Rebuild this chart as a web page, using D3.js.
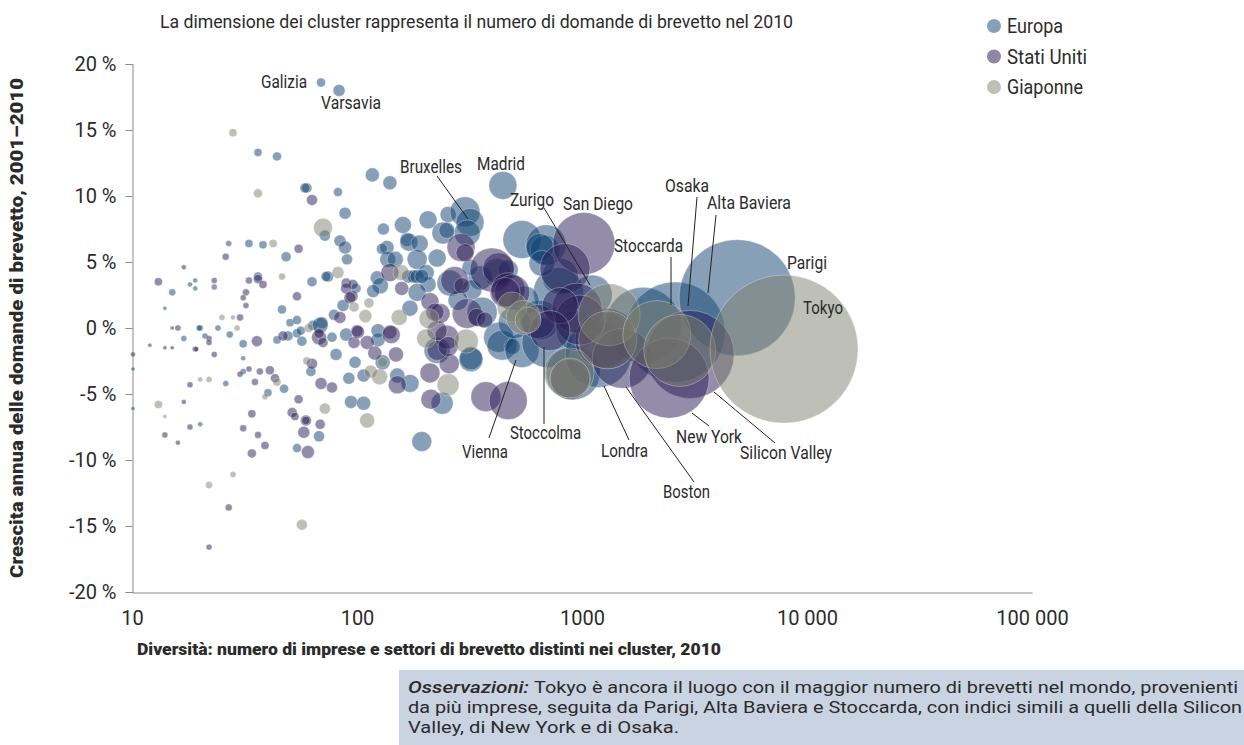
<!DOCTYPE html>
<html>
<head>
<meta charset="utf-8">
<script src="https://cdn.jsdelivr.net/npm/d3@7"></script>
<style>
  html, body { margin: 0; padding: 0; background: #fff; }
  svg { display: block; }
  text { font-family: Roboto, "Open Sans", sans-serif; fill: #2b2b2b; }
</style>
</head>
<body>
<svg id="chart" width="1244" height="745"></svg>
<script>
// diversity, annual growth %, patent applications
const europa = [
  [69.2,18.6,111],[83.2,18.0,197],[36.3,13.3,88],[44.1,13.0,111],[117,11.6,269],[140,11.0,269],[59.9,10.6,137],[58.7,10.6,137],
  [82.3,10.3,111],[88.5,8.7,197],[72,7.0,166],[84,6.6,197],[88.5,6.1,232],[90.3,5.2,166],[160,7.8,396],[131,7.5,197],
  [167,6.7,269],[170,6.5,444],[190,6.4,396],[136,6.1,269],[129,6.0,166],[207,8.2,444],[254,8.6,351],[241,7.2,663],
  [251,7.4,351],[302,8.8,1233],[318,8.0,1074],[309,7.2,926],[227,5.3,444],[185,5.2,548],[137,5.2,351],[148,5.2,351],
  [48.4,5.4,137],[26.9,6.4,49],[33.1,6.4,88],[38.2,6.3,88],[36.3,3.9,111],[63.1,3.5,137],[74.4,3.9,166],[72.8,3.9,137],
  [19.1,3.6,34],[18.1,3.3,34],[19.1,3.0,34],[15.1,2.7,67],[23.2,3.1,49],[14,1.5,22],[46.4,1.4,111],[50.4,0.4,88],
  [54.1,0.6,111],[24.1,0,49],[20.1,0,49],[19.9,0,49],[69.9,0.4,197],[63.7,0.2,137],[79,1.0,166],[86.7,1.7,197],
  [99,3.0,137],[123,3.8,269],[127,3.2,351],[118,2.8,232],[172,1.5,351],[203,4.2,351],[207,3.3,351],[185,2.7,444],
  [169,3.9,232],[178,3.9,232],[185,3.9,269],[194,3.9,269],[10.1,-3.1,22],[10.1,-6.1,22],[17,-0.8,49],[21.1,-0.6,49],
  [27.2,-0.5,67],[31.2,-1.2,88],[44.1,-0.9,88],[49.4,-0.6,137],[54.1,-0.4,111],[56.9,-1.0,137],[56.3,-0.2,111],[31.2,-2.3,34],
  [31.2,-3.3,49],[26.1,-4.2,49],[40.2,-4.9,88],[47.4,-4.6,111],[62.4,-3.3,137],[80.7,-2.0,197],[98,-2.6,197],[20.1,-7.3,34],
  [92,-3.8,197],[107,-3.6,232],[151,-3.6,308],[172,-4.2,444],[94,-5.6,232],[107,-5.7,269],[67.8,-8.2,166],[54.1,-9.1,111],
  [194,-8.6,548],[130,-2.6,308],[124,-0.2,269],[124,-0.9,269],[89.5,-0.5,232],[77.4,-0.7,137],[68.6,0.2,351],[227,-1.7,926],
  [321,-2.4,789],[321,-2.3,725],[239,-5.7,663],[259,3.4,926],[353,3.8,789],[324,2.9,548],[318,4.6,351],[281,2.1,548],
  [426,-0.7,1233],[441,-1.3,1233],[489,-1.4,351],[541,-1.7,1584],[419,4.2,1074],[470,4.4,548],[541,6.7,1978],[692,6.3,2192],
  [686,5.9,1233],[650,6.1,1074],[800,3.9,1776],[785,2.7,3425],[664,4.9,926],[699,-1.1,3425],[1110,2.5,2192],[650,0.6,2192],
  [559,2.1,1074],[913,-3.4,3995],[1180,-2.0,5968],[1870,0.2,7913],[2590,-0.3,13700],[4890,2.3,18434],[940,-0.2,2192],[445,10.8,1074],
  [360,1.2,1233],[500,0.4,1403]
];
const statiUniti = [
  [55,6.0,111],[26.1,5.4,67],[17,4.6,34],[13.1,3.5,88],[23.2,3.6,49],[33.1,3.6,67],[36.3,3.7,111],[38.2,3.3,88],
  [32.1,2.7,67],[31.2,2.3,49],[32.1,1.7,49],[54.1,2.4,111],[30.2,0.8,67],[15.1,0,22],[16,0,49],[63.1,9.7,166],
  [89.5,3.4,137],[96,3.3,137],[89.5,3.0,166],[95,2.4,197],[93,2.3,197],[84,0.8,197],[140,4.2,444],[158,3.0,269],
  [100,-0.2,197],[140,-0.3,269],[10.1,-2,34],[12,-1.3,22],[14,-1.5,22],[15.1,-1.5,22],[19.1,-1.6,49],[19.3,-1.6,34],
  [22,-0.8,49],[22,-1.1,49],[23.2,-2,49],[35.9,-1,166],[46.9,-0.6,137],[67.8,-0.7,308],[67.8,-0.4,137],[70.6,-1.1,137],
  [33.1,-3.1,49],[30.2,-3.5,49],[37,-3.3,67],[41,-3.2,111],[43.2,-3.8,111],[35.2,-4.1,67],[18.1,-4.3,49],[17,-5.6,34],
  [55,-5.4,111],[51.5,-6.4,137],[53,-6.7,88],[34.1,-6.5,88],[59.3,-7,166],[59.3,-7,88],[68.6,-7.3,137],[58,-7.9,197],
  [31.2,-7.6,67],[36.3,-8.1,67],[39,-8.9,88],[34.1,-9.5,111],[60.5,-9.4,232],[18.1,-7.5,49],[14,-8.1,49],[16,-8.7,34],
  [26.9,-13.6,67],[22,-16.6,49],[63.1,-2.7,166],[69.2,-4.2,197],[77.4,-4.5,166],[97,-1.1,197],[101,-0.3,232],[111,-1.1,269],
  [120,-1.9,269],[142,-0.5,444],[149,-2,308],[151,-4.3,444],[211,-3.4,548],[257,-2.7,548],[213,-5.4,548],[227,-1.7,548],
  [251,-0.7,789],[254,-1.4,548],[227,-0.2,548],[211,2,444],[234,1.1,548],[222,1.2,444],[290,6.1,1074],[302,5.7,444],
  [272,3.6,1074],[293,3.2,351],[309,1.1,1233],[341,0.8,444],[370,0.6,351],[398,4.4,2652],
  [426,4.5,1403],[470,2.9,1584],[489,2.7,1700],[455,2.7,1233],[637,0.5,1584],[1020,6.4,5266],[840,4.5,3425],
  [950,1.5,3425],[1240,-0.9,4296],[1300,-0.8,4932],[1510,-2.3,4932],[885,-3.9,2192],[3020,-2,10609],[2440,-3.8,8768],[980,0.6,3425],
  [800,1.7,1776],[720,-0.2,2192],[374,-5.2,1233],[470,-5.5,1978]
];
const giappone = [
  [28.1,14.8,88],[36.3,10.2,111],[70.6,7.6,495],[42.4,6.4,88],[46.4,3.9,67],[82.3,4.2,197],[113,1.9,137],[109,0.9,232],
  [97,1.6,137],[154,0.8,351],[157,4.2,351],[25.1,0.8,49],[28.1,0.8,34],[29.3,0,49],[61,0,111],[20.1,-3.9,34],
  [22,-3.9,49],[13.1,-5.8,88],[14,-6.7,22],[44.1,-4.1,88],[39,-5.2,49],[28.1,-11.1,49],[22,-11.9,67],[56.9,-14.9,166],
  [72,-6.1,166],[111,-7,308],[59.9,-2.5,88],[115,-3.3,232],[126,-3.7,351],[130,-2.6,137],[254,-4.3,663],[203,-0.8,495],
  [306,-1,789],[209,0.7,548],[489,1.6,1233],[548,0.8,1584],[576,0.6,926],[875,-3.4,3425],[885,-3.8,2192],[1320,1,5266],
  [1300,-0.9,4612],[2150,-0.5,6335],[2720,-1.7,7102],[7900,-1.6,30000]
];

const seriesNames = ['Europa', 'Stati Uniti', 'Giaponne'];
const seriesFill = ['#0f4171', '#2a1b55', '#7d7f6d'];
const legendFill = ['#87a0b8', '#8f87a6', '#bebfb6'];
const xTicks = [10, 100, 1000, 10000, 100000];
const yTicks = [-20, -15, -10, -5, 0, 5, 10, 15, 20];

// name, left, baseline, width
const labels = [
  ['Galizia',261,88,46],['Varsavia',321,109,60],['Bruxelles',400,173,62],['Madrid',477,170,48],
  ['Zurigo',510,206,44],['San Diego',563,210,70],['Stoccarda',614,252,69],['Osaka',665,192,44],
  ['Alta Baviera',707,209,84],['Parigi',787,269,40],['Tokyo',803,314,40],['Vienna',462,458,46],
  ['Stoccolma',510,439,71],['Londra',601,457,47],['New York',676,443,66],['Silicon Valley',740,459,92],
  ['Boston',663,498,47]
];
const leaders = [
  [437,176,468,219],[544,208,590,285],[544,347,544,424],[516,360,489,438],[604,386,629,440],[626,387,694,482],
  [692,413,709,426],[714,392,775,443],[671,257,671,305],[697,197,688,306],[716,215,708,293]
];
const noteLines = [
  ['Tokyo è ancora il luogo con il maggior numero di brevetti nel mondo, provenienti', 693, 704],
  ['da più imprese, seguita da Parigi, Alta Baviera e Stoccarda, con indici simili a quelli della Silicon', 713, 834],
  ['Valley, di New York e di Osaka.', 733, 271]
];

const svg = d3.select('#chart');
const xScale = d3.scaleLog().domain([10, 100000]).range([132, 1032]);
const yScale = d3.scaleLinear().domain([-20, 20]).range([592, 64]);
const rScale = d3.scaleSqrt().domain([0, 30000]).range([0, 74]);

const fitText = (sel, w) => sel.attr('textLength', w).attr('lengthAdjust', 'spacingAndGlyphs');

// axes
const yAxis = d3.axisLeft(yScale).tickValues(yTicks).tickSize(7).tickPadding(9).tickFormat(d => d + ' %');
const xAxis = d3.axisBottom(xScale).tickValues(xTicks).tickSize(0).tickPadding(18)
  .tickFormat(d => d < 10000 ? String(d) : String(d).replace(/000$/, ' 000'));
const yGroup = svg.append('g').attr('transform', 'translate(132.5,0)').call(yAxis);
const xGroup = svg.append('g').attr('transform', 'translate(0,592.5)').call(xAxis);
[yGroup, xGroup].forEach(g => {
  g.selectAll('path, line').attr('stroke', '#8a8a8a').attr('stroke-width', 1);
  g.selectAll('text').attr('font-size', 20).attr('font-family', 'Roboto').attr('fill', '#2b2b2b');
});

// bubbles
[europa, statiUniti, giappone].forEach((rows, i) => {
  svg.append('g').selectAll('circle').data(rows).join('circle')
    .attr('cx', d => xScale(d[0]))
    .attr('cy', d => yScale(d[1]))
    .attr('r', d => rScale(d[2]))
    .attr('fill', seriesFill[i])
    .attr('fill-opacity', 0.5)
    .attr('stroke', '#fff')
    .attr('stroke-opacity', 0.3)
    .attr('stroke-width', 1);
});

// leader lines and cluster names
svg.append('g').selectAll('line').data(leaders).join('line')
  .attr('x1', d => d[0]).attr('y1', d => d[1]).attr('x2', d => d[2]).attr('y2', d => d[3])
  .attr('stroke', '#222').attr('stroke-width', 1);
svg.append('g').selectAll('text').data(labels).join('text')
  .attr('x', d => d[1]).attr('y', d => d[2]).attr('font-size', 18)
  .attr('textLength', d => d[3]).attr('lengthAdjust', 'spacingAndGlyphs')
  .text(d => d[0]);

// title and axis titles
svg.append('text').attr('x', 160).attr('y', 28).attr('font-size', 18)
  .call(fitText, 633)
  .text('La dimensione dei cluster rappresenta il numero di domande di brevetto nel 2010');
svg.append('text').attr('transform', 'translate(23,578) rotate(-90)')
  .attr('font-size', 18).attr('font-weight', 900).attr('fill', '#111')
  .call(fitText, 500)
  .text('Crescita annua delle domande di brevetto, 2001–2010');
svg.append('text').attr('x', 137).attr('y', 655)
  .attr('font-size', 16).attr('font-weight', 900).attr('fill', '#111')
  .call(fitText, 584)
  .text('Diversità: numero di imprese e settori di brevetto distinti nei cluster, 2010');

// legend
const legendWidths = [56, 80, 76];
const legend = svg.append('g').selectAll('g').data(seriesNames).join('g')
  .attr('transform', d => `translate(994,${d3.scalePoint().domain(seriesNames).range([26, 87])(d)})`);
legend.append('circle').attr('r', 7).attr('fill', (d, i) => legendFill[i]);
legend.append('text').attr('x', 13).attr('y', 7).attr('font-size', 20)
  .attr('textLength', (d, i) => legendWidths[i]).attr('lengthAdjust', 'spacingAndGlyphs')
  .text(d => d);

// note box
svg.append('rect').attr('x', 399).attr('y', 670).attr('width', 845).attr('height', 75).attr('fill', '#c9d3e2');
svg.append('text').attr('x', 408).attr('y', 693).attr('font-size', 17).attr('font-style', 'italic').attr('font-weight', 500)
  .call(fitText, 121).text('Osservazioni:');
noteLines.forEach((l, i) => {
  svg.append('text').attr('x', i === 0 ? 534 : 408).attr('y', l[1]).attr('font-size', 17)
    .call(fitText, l[2]).text(l[0]);
});
</script>
</body>
</html>
